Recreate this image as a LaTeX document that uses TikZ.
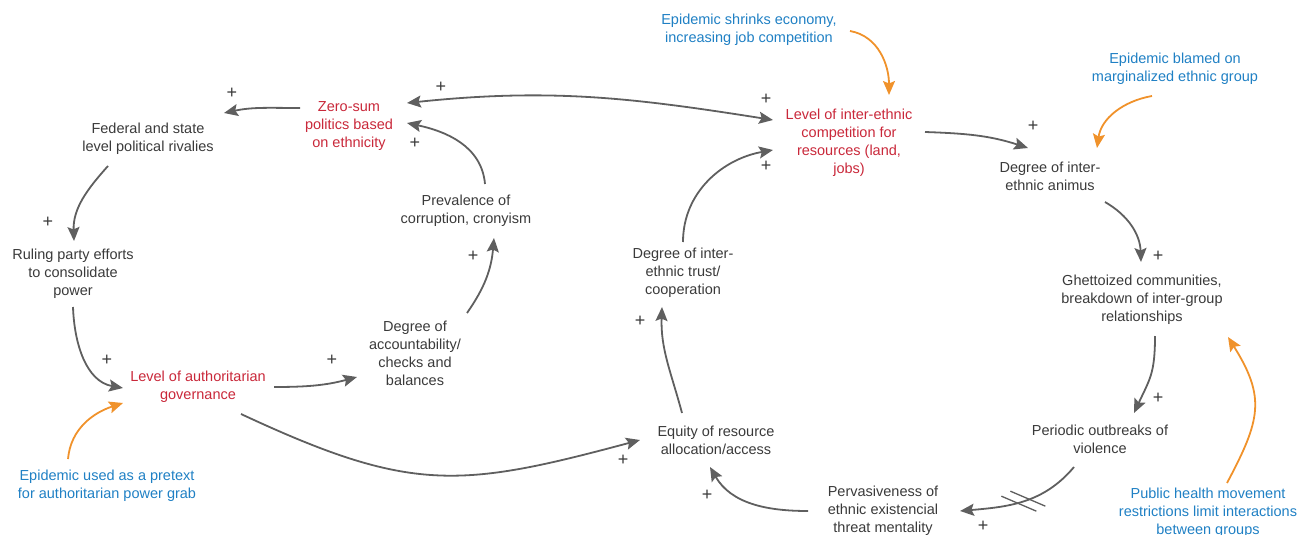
\documentclass[tikz,border=0pt]{standalone}
\usepackage{fontspec}
\setmainfont{Liberation Sans}
\usetikzlibrary{arrows.meta}
\definecolor{vargray}{HTML}{3A3A3A}
\definecolor{keyred}{HTML}{C9283A}
\definecolor{extblue}{HTML}{1F80C4}
\definecolor{linkgray}{HTML}{5F5F5F}
\definecolor{pushorange}{HTML}{F0922B}

\begin{document}
\begin{tikzpicture}[x=1pt,y=1pt,
  >={Stealth[length=14pt,width=12pt,inset=2.5pt]},
  every node/.style={font=\fontsize{14.5}{18}\selectfont, inner sep=0pt},
  var/.style={align=center, text=vargray},
  key/.style={var, text=keyred},
  ext/.style={var, text=extblue},
  link/.style={draw=linkgray, line width=1.8pt, ->},
  both/.style={link, <->},
  push/.style={link, draw=pushorange},
  delaymark/.style={draw=linkgray, line width=1.3pt},
  sign/.style={text=vargray, font=\fontsize{18}{18}\selectfont}]
\useasboundingbox (0,0) rectangle (1301,-535);

\node[key] (zerosum) at (349,-126) {Zero-sum\\politics based\\on ethnicity};
\node[var] (rivalry) at (148,-139) {Federal and state\\level political rivalies};
\node[var] (ruling) at (73,-274) {Ruling party efforts\\to consolidate\\power};
\node[key] (authority) at (198,-387) {Level of authoritarian\\governance};
\node[var] (account) at (415,-353) {Degree of\\accountability/\\checks and\\balances};
\node[var] (corrupt) at (466,-211) {Prevalence of\\corruption, cronyism};
\node[key] (compete) at (849,-143) {Level of inter-ethnic\\competition for\\resources (land,\\jobs)};
\node[ext] (shrink) at (749,-30) {Epidemic shrinks economy,\\increasing job competition};
\node[var] (animus) at (1050,-176) {Degree of inter-\\ethnic animus};
\node[ext] (blame) at (1175,-69) {Epidemic blamed on\\marginalized ethnic group};
\node[var] (ghetto) at (1142,-300) {Ghettoized communities,\\breakdown of inter-group\\relationships};
\node[var] (violence) at (1100,-439) {Periodic outbreaks of\\violence};
\node[ext] (restrict) at (1208,-513) {Public health movement\\restrictions limit interactions\\between groups};
\node[var] (threat) at (883,-511) {Pervasiveness of\\ethnic existencial\\threat mentality};
\node[var] (equity) at (716,-440) {Equity of resource\\allocation/access};
\node[var] (trust) at (683,-273) {Degree of inter-\\ethnic trust/\\cooperation};
\node[ext] (pretext) at (107,-486) {Epidemic used as a pretext\\for authoritarian power grab};

\draw[link] ([shift={(-49,18)}]zerosum.center) to[out=180,in=12] ([shift={(76,26)}]rivalry.center);
\draw[link] ([shift={(-40,-27)}]rivalry.center) to[out=228,in=92] ([shift={(1,33)}]ruling.center);
\draw[link] ([shift={(0,-33)}]ruling.center) to[out=272,in=170] ([shift={(-75,-1)}]authority.center);
\draw[link] ([shift={(76,0)}]authority.center) to[out=0,in=195] ([shift={(-58,-24)}]account.center);
\draw[link] ([shift={(52,40)}]account.center) to[out=55,in=265] ([shift={(28,-27)}]corrupt.center);
\draw[link] ([shift={(19,27)}]corrupt.center) to[out=95,in=-12] ([shift={(58,3)}]zerosum.center);
\draw[both] ([shift={(58,23)}]zerosum.center) to[out=6,in=171] ([shift={(-76,23)}]compete.center);
\draw[link] ([shift={(0,31)}]trust.center) to[out=90,in=190] ([shift={(-76,-7)}]compete.center);
\draw[link] ([shift={(-34,27)}]equity.center) to[out=105,in=268] ([shift={(-21,-34)}]trust.center);
\draw[link] ([shift={(43,-27)}]authority.center) to[out=-25,in=195,looseness=1.2] ([shift={(-76,0)}]equity.center);
\draw[link] ([shift={(-75,0)}]threat.center) to[out=180,in=-60] ([shift={(-6,-27)}]equity.center);
\draw[link] ([shift={(-26,-28)}]violence.center) to[out=230,in=5] coordinate[pos=0.5] (delay) ([shift={(77,0)}]threat.center);
\draw[delaymark] ([shift={(-13,10)}]delay) -- ([shift={(22,-5)}]delay);
\draw[delaymark] ([shift={(-22,5)}]delay) -- ([shift={(13,-10)}]delay);
\draw[link] ([shift={(13,-36)}]ghetto.center) to[out=270,in=65,looseness=1.2] ([shift={(34,26)}]violence.center);
\draw[link] ([shift={(55,-26)}]animus.center) to[out=-30,in=92] ([shift={(-1,38)}]ghetto.center);
\draw[link] ([shift={(76,11)}]compete.center) to[out=-2,in=162] ([shift={(-22,28)}]animus.center);

\draw[push] ([shift={(101,-1)}]shrink.center) to[out=-10,in=90] ([shift={(40,48)}]compete.center);
\draw[push] ([shift={(-23,-27)}]blame.center) to[out=190,in=82] ([shift={(47,28)}]animus.center);
\draw[push] ([shift={(19,30)}]restrict.center) to[out=62,in=-58,looseness=1.25] ([shift={(86,-37)}]ghetto.center);
\draw[push] ([shift={(-39,27)}]pretext.center) to[out=85,in=198] ([shift={(-75,-16)}]authority.center);

\node[sign] (s1) at (232,-93) {+};
\node[sign] (s2) at (48,-222) {+};
\node[sign] (s3) at (107,-360) {+};
\node[sign] (s4) at (332,-360) {+};
\node[sign] (s5) at (473,-256) {+};
\node[sign] (s6) at (415,-143) {+};
\node[sign] (s7) at (441,-87) {+};
\node[sign] (s8) at (766,-99) {+};
\node[sign] (s9) at (766,-166) {+};
\node[sign] (s10) at (640,-321) {+};
\node[sign] (s11) at (623,-460) {+};
\node[sign] (s12) at (707,-495) {+};
\node[sign] (s13) at (983,-526) {+};
\node[sign] (s14) at (1158,-398) {+};
\node[sign] (s15) at (1158,-256) {+};
\node[sign] (s16) at (1033,-126) {+};
\end{tikzpicture}
\end{document}
